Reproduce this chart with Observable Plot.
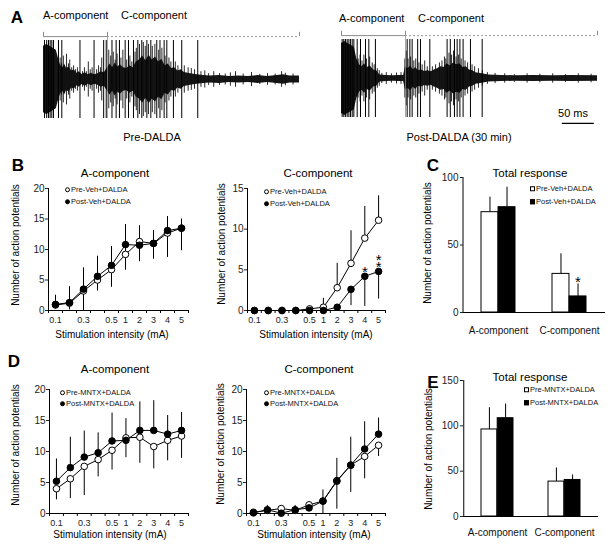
<!DOCTYPE html>
<html>
<head>
<meta charset="utf-8">
<script src="https://cdn.jsdelivr.net/npm/d3@7"></script>
<script src="https://cdn.jsdelivr.net/npm/@observablehq/plot@0.6"></script>
<style>
  html, body { margin: 0; padding: 0; background: #fff; overflow: hidden; }
  #fig { position: relative; width: 612px; height: 549px; overflow: hidden;
         font-family: "Liberation Sans", Arial, Helvetica, sans-serif; color: #000; background: #fff; }
  .t { position: absolute; white-space: nowrap; line-height: 1; }
  .leg { position: absolute; display: flex; align-items: center; font-size: 7.5px; line-height: 1;
         transform: translateY(-50%); white-space: nowrap; color: #111; }
  .mk { display: inline-block; width: 5px; height: 5px; box-sizing: border-box; border: 1px solid #000; margin-right: 1.5px; }
  .mk.circle { border-radius: 50%; }
</style>
</head>
<body>
<div id="fig"></div>
<script>
// ---------------- DATA ----------------
const intensities = ["0.1","0.2","0.3","0.4","0.5","1","2","3","4","5"];
const intensityTickLabels = ["0.1","","0.3","","0.5","1","2","3","4","5"];

// Panel B (Veh + DALDA) : pre error bars upward, post error bars downward
const preVehA     = [0.9, 1.2, 3.2, 5.0, 6.7, 9.2, 11.3, 11.0, 12.7, 13.5];
const postVehA    = [1.0, 1.3, 3.5, 5.6, 7.4, 10.8, 10.7, 11.0, 13.1, 13.5];
const preVehAErr  = [1.6, 2.7, 3.8, 3.9, 3.8, 4.9, 2.6, 2.1, 2.7, 1.5];
const postVehAErr = [0.8, 1.2, 3.5, 2.4, 3.6, 4.2, 2.7, 2.6, 4.4, 3.7];

const preVehC     = [0, 0, 0, 0, 0.2, 0.4, 2.8, 5.8, 8.9, 11.1];
const postVehC    = [0, 0, 0, 0, 0, 0, 0.4, 2.6, 4.2, 4.8];
const preVehCErr  = [0, 0, 0, 0, 0.3, 1.1, 3.0, 4.0, 3.9, 3.0];
const postVehCErr = [0, 0, 0, 0, 0, 0, 0.3, 2.0, 3.7, 3.4];
const vehCSig     = ["", "", "", "", "", "", "", "", "*", "**"];

// Panel D (MNTX + DALDA) : post error bars upward, pre error bars downward
const preMntxA     = [4.0, 5.6, 7.6, 8.7, 10.2, 12.2, 12.3, 10.8, 11.8, 12.5];
const postMntxA    = [5.2, 7.4, 9.1, 9.8, 11.7, 11.8, 13.4, 13.4, 12.8, 13.4];
const preMntxAErr  = [1.8, 3.2, 4.7, 2.8, 3.2, 3.2, 4.2, 3.6, 3.3, 3.6];
const postMntxAErr = [3.6, 4.9, 4.2, 3.2, 4.5, 3.5, 4.6, 4.8, 3.0, 2.9];

const preMntxC     = [0.2, 0.5, 0.8, 0.5, 1.4, 2.0, 5.2, 7.8, 9.2, 11.0];
const postMntxC    = [0.1, 0.6, 0.05, 0.6, 0.9, 2.0, 5.3, 7.8, 10.4, 12.8];
const preMntxCErr  = [0.2, 0.4, 0.5, 0.4, 0.6, 2.0, 4.5, 4.4, 3.6, 1.8];
const postMntxCErr = [0.2, 0.7, 0.3, 0.7, 0.5, 1.8, 3.6, 4.5, 4.4, 2.6];

// Panels C and E (total response)
const components = ["A-component", "C-component"];
const preVehTotal      = [74.3, 28.6];
const postVehTotal     = [78.0, 11.9];
const preVehTotalErr   = [11.1, 14.9];
const postVehTotalErr  = [14.8, 9.3];
const vehTotalSig      = ["", "*"];
const preMntxTotal     = [96.0, 38.5];
const postMntxTotal    = [108.4, 40.3];
const preMntxTotalErr  = [24.0, 15.0];
const postMntxTotalErr = [15.6, 5.5];
const mntxTotalSig     = ["", ""];

const vehLegend  = ["Pre-Veh+DALDA", "Post-Veh+DALDA"];
const mntxLegend = ["Pre-MNTX+DALDA", "Post-MNTX+DALDA"];

// Panel A traces (time in ms, amplitude normalised to the clipped display range)
const traceDuration = 400;
const componentBounds = [0, 100, 400];
const scaleBarMs = 50;
const scaleBarStart = 345;
const clipLevel = 1;
const bracketLevel = 1.1;
const scaleBarLevel = -1.15;

const pre1Spikes = [1.6, 5, 7.8, 10.4, 13, 15.6, 23.4, 28.6, 57, 79, 94, 98, 107, 113.5, 118.7, 127.6, 132.8,
                    140.6, 147.4, 153.6, 161.5, 167.7, 177, 182, 188.5, 192.7, 203, 216, 241];
const pre1MinorT = [26, 28, 31, 33, 36, 39, 41, 44, 47, 50, 53, 61, 64, 67, 70, 73, 76, 83, 86, 89, 91, 102, 105,
                    109, 112, 115, 121, 124, 130, 135, 138, 143, 145, 150, 156, 159, 164, 170, 174, 180, 185, 190,
                    196, 199, 206, 210, 220, 226, 231, 236, 246, 252, 258, 266, 275, 284, 292, 300, 312, 325, 338,
                    350, 362, 372, 378, 390];
const pre1MinorA = [0.55, 0.4, 0.6, 0.35, 0.65, 0.4, 0.5, 0.3, 0.35, 0.25, 0.3, 0.2, 0.3, 0.2, 0.45, 0.25, 0.3,
                    0.25, 0.35, 0.3, 0.55, 0.75, 0.6, 0.7, 0.5, 0.65, 0.55, 0.75, 0.5, 0.6, 0.45, 0.7, 0.8, 0.9,
                    0.95, 0.85, 0.9, 0.85, 0.9, 0.75, 0.8, 0.6, 0.55, 0.45, 0.45, 0.35, 0.35, 0.3, 0.28, 0.25,
                    0.2, 0.22, 0.15, 0.2, 0.15, 0.14, 0.17, 0.2, 0.14, 0.18, 0.13, 0.15, 0.14, 0.2, 0.16, 0.14];
const pre1EnvT = [0, 5, 10, 15, 20, 24, 27, 30, 33, 36, 40, 44, 48, 52, 56, 60, 65, 70, 75, 80, 85, 90, 95, 100,
                  104, 108, 112, 116, 120, 125, 130, 135, 140, 145, 150, 155, 160, 165, 170, 175, 180, 185, 190,
                  195, 200, 205, 210, 215, 220, 230, 240, 250, 260, 275, 290, 305, 320, 335, 350, 365, 375, 385, 400];
const pre1EnvA = [0.85, 0.9, 0.85, 0.8, 0.75, 0.5, 0.35, 0.3, 0.4, 0.28, 0.32, 0.22, 0.25, 0.16, 0.2, 0.13, 0.17,
                  0.12, 0.16, 0.12, 0.15, 0.2, 0.17, 0.3, 0.4, 0.3, 0.42, 0.32, 0.38, 0.3, 0.28, 0.35, 0.3, 0.45,
                  0.5, 0.6, 0.48, 0.62, 0.5, 0.58, 0.45, 0.52, 0.35, 0.4, 0.28, 0.3, 0.22, 0.25, 0.18, 0.15, 0.12,
                  0.1, 0.09, 0.1, 0.08, 0.09, 0.08, 0.1, 0.08, 0.1, 0.12, 0.09, 0.09];

const post1Spikes = [1, 3.6, 6.3, 8.9, 11.5, 14, 16.7, 19.3, 24.5, 29.7, 37.5, 42.7, 53, 102.6, 106.8, 110.4, 119,
                     123.4, 138, 165, 170, 176.5, 180.7, 185, 190, 201.5, 219.8];
const post1MinorT = [26, 29, 32, 35, 39, 44, 48, 51, 56, 59, 63, 70, 78, 86, 93, 99, 101, 104, 108, 113, 116, 121,
                     126, 130, 134, 142, 147, 153, 157, 161, 163, 168, 172, 175, 179, 183, 187, 193, 197, 204, 208,
                     214, 220, 228, 240, 255, 270, 290, 310, 330, 350, 370, 390];
const post1MinorA = [0.5, 0.6, 0.45, 0.6, 0.5, 0.55, 0.4, 0.35, 0.25, 0.2, 0.13, 0.15, 0.12, 0.14, 0.15, 0.5, 0.7,
                     0.5, 0.55, 0.45, 0.5, 0.4, 0.35, 0.45, 0.3, 0.3, 0.35, 0.4, 0.45, 0.55, 0.5, 0.65, 0.6, 0.7,
                     0.55, 0.6, 0.5, 0.45, 0.4, 0.35, 0.3, 0.25, 0.2, 0.15, 0.13, 0.12, 0.1, 0.12, 0.11, 0.12, 0.1,
                     0.12, 0.11];
const post1EnvT = [0, 5, 10, 15, 20, 24, 28, 32, 36, 40, 45, 50, 55, 60, 70, 80, 90, 97, 100, 104, 108, 112, 116,
                   120, 125, 130, 135, 140, 145, 150, 155, 160, 165, 170, 175, 180, 185, 190, 195, 200, 205, 210,
                   220, 230, 250, 270, 300, 330, 360, 400];
const post1EnvA = [0.9, 0.95, 0.9, 0.85, 0.8, 0.5, 0.35, 0.3, 0.38, 0.28, 0.32, 0.22, 0.2, 0.09, 0.08, 0.07, 0.08,
                   0.08, 0.3, 0.25, 0.32, 0.22, 0.28, 0.2, 0.22, 0.18, 0.2, 0.17, 0.22, 0.25, 0.3, 0.28, 0.38, 0.32,
                   0.4, 0.35, 0.38, 0.28, 0.3, 0.22, 0.2, 0.15, 0.12, 0.09, 0.08, 0.07, 0.08, 0.07, 0.08, 0.07];

// ---------------- RENDER ----------------
const W = 612, H = 549;
const FONT = '"Liberation Sans", Arial, Helvetica, sans-serif';
const fig = document.getElementById("fig");

function text(str, x, y, {size = 10, weight = "normal", rotate = 0, anchor = "middle", color = "#000"} = {}) {
  const el = document.createElement("div");
  el.className = "t";
  el.textContent = str;
  el.style.left = x + "px";
  el.style.top = y + "px";
  el.style.fontSize = size + "px";
  el.style.fontWeight = weight;
  el.style.color = color;
  const tx = anchor === "middle" ? "-50%" : anchor === "end" ? "-100%" : "0";
  el.style.transform = `translate(${tx}, -50%)` + (rotate ? ` rotate(${rotate}deg)` : "");
  fig.appendChild(el);
}

function legend(x, y, gap, labels, shape) {
  labels.forEach((lab, k) => {
    const row = document.createElement("div");
    row.className = "leg";
    row.style.left = (x - 2.5) + "px";
    row.style.top = (y + k * gap) + "px";
    const m = document.createElement("span");
    m.className = "mk " + shape;
    m.style.background = k === 0 ? "#fff" : "#000";
    row.appendChild(m);
    row.appendChild(document.createTextNode(lab));
    fig.appendChild(row);
  });
}

function pagePlot(frame, opts) {
  const svg = Plot.plot({
    width: W, height: H,
    marginLeft: frame.left, marginRight: W - frame.right,
    marginTop: frame.top, marginBottom: H - frame.bottom,
    style: {position: "absolute", left: "0px", top: "0px", background: "transparent",
            overflow: "visible", fontFamily: FONT, color: "#000", maxWidth: "none"},
    ...opts
  });
  fig.appendChild(svg);
}

function linePanel({frame, yMax, yStep, pre, post, preErr, postErr, preUp, sig}) {
  const rows = intensities.map((c, i) => ({i, pre: pre[i], post: post[i], preErr: preErr[i], postErr: postErr[i],
                                           sig: sig ? sig[i] : ""}));
  const xDomain = [-0.5, intensities.length - 0.5];
  const boundaries = d3.range(intensities.length + 1).map(k => k - 0.5);
  const labelIdx = intensities.map((c, i) => i).filter(i => intensityTickLabels[i] !== "");
  const dir = preUp ? 1 : -1;
  const sigMarks = [];
  rows.filter(d => d.sig).forEach(d => {
    d.sig.split("").forEach((s, k) => {
      sigMarks.push(Plot.text([d], {x: "i", y: "post", text: () => s, lineAnchor: "bottom",
                                   fontSize: 15, dy: 1 - 7 * k, fill: "#000"}));
    });
  });
  pagePlot(frame, {
    x: {type: "linear", domain: xDomain},
    y: {domain: [0, yMax]},
    marks: [
      Plot.ruleX(rows, {x: "i", y1: "pre", y2: d => d.pre + dir * d.preErr, stroke: "#000", strokeWidth: 1}),
      Plot.ruleX(rows, {x: "i", y1: "post", y2: d => d.post - dir * d.postErr, stroke: "#000", strokeWidth: 1}),
      Plot.ruleY([0], {stroke: "#000"}),
      Plot.ruleX([xDomain[0]], {stroke: "#000"}),
      Plot.axisY(d3.range(0, yMax + 1e-9, yStep), {tickSize: 3, tickPadding: 1, fontSize: 10, label: null,
                                                     tickFormat: d3.format("d"), color: "#222"}),
      Plot.axisX(boundaries, {tickSize: 3, tickFormat: () => "", label: null}),
      Plot.axisX(labelIdx, {tickSize: 0, tickPadding: 6, fontSize: 9, label: null,
                            tickFormat: i => intensityTickLabels[i], color: "#222"}),
      Plot.line(rows, {x: "i", y: "pre", stroke: "#000", strokeWidth: 1}),
      Plot.line(rows, {x: "i", y: "post", stroke: "#000", strokeWidth: 1}),
      Plot.dot(rows, {x: "i", y: "pre", r: 3.3, fill: "#fff", stroke: "#000", strokeWidth: 1}),
      Plot.dot(rows, {x: "i", y: "post", r: 3.3, fill: "#000", stroke: "#000", strokeWidth: 1}),
      ...sigMarks
    ]
  });
}

function barPanel({frame, yMax, yStep, pre, post, preErr, postErr, sig, labelPad}) {
  const pi = 0.52, po = 0.26;
  const step = (frame.right - frame.left) / (components.length - pi + 2 * po);
  const bw = step * (1 - pi);
  const rows = components.map((c, i) => ({c, pre: pre[i], post: post[i], preErr: preErr[i], postErr: postErr[i], sig: sig[i]}));
  pagePlot(frame, {
    x: {type: "band", domain: components, paddingInner: pi, paddingOuter: po},
    y: {domain: [0, yMax]},
    marks: [
      Plot.ruleX(rows, {x: "c", y1: "pre", y2: d => d.pre + d.preErr, dx: -bw / 4, stroke: "#000"}),
      Plot.ruleX(rows, {x: "c", y1: "post", y2: d => d.post + d.postErr, dx: bw / 4, stroke: "#000"}),
      Plot.barY(rows, {x: "c", y: "pre", fill: "#fff", stroke: "#000", strokeWidth: 1, insetRight: bw / 2}),
      Plot.barY(rows, {x: "c", y: "post", fill: "#000", stroke: "#000", strokeWidth: 1, insetLeft: bw / 2}),
      Plot.ruleY([0], {stroke: "#000"}),
      Plot.ruleX([components[0]], {stroke: "#000", dx: -(po * step + bw / 2)}),
      Plot.axisY(d3.range(0, yMax + 1e-9, yStep), {tickSize: 3, tickPadding: 2, fontSize: 10, label: null,
                                                     tickFormat: d3.format("d"), color: "#222"}),
      Plot.axisX({tickSize: 0, tickPadding: labelPad, fontSize: 10, label: null, color: "#111"}),
      Plot.text(rows.filter(d => d.sig), {x: "c", y: d => d.post + d.postErr, text: "sig", dx: bw / 4, dy: 3.5,
                                          lineAnchor: "bottom", fontSize: 15, fill: "#000"})
    ]
  });
}

function tracePanel({frame, spikes, minorT, minorA, envT, envA, showScaleBar}) {
  const env = envT.map((t, i) => ({t, a: envA[i]}));
  const minor = minorT.map((t, i) => ({t, a: minorA[i]}));
  const marks = [
    Plot.areaY(env, {x: "t", y1: d => -d.a, y2: "a", fill: "#151515"}),
    Plot.ruleX(minor, {x: "t", y1: d => -d.a, y2: "a", stroke: "#111", strokeWidth: 0.9}),
    Plot.ruleX(spikes, {x: d => d, y1: -clipLevel, y2: clipLevel, stroke: "#000", strokeWidth: 1}),
    Plot.ruleX([componentBounds[1]], {y1: -clipLevel, y2: bracketLevel, stroke: "#e06a6a", strokeOpacity: 0.75}),
    Plot.ruleY([bracketLevel], {x1: componentBounds[0], x2: componentBounds[1], stroke: "#8a8a8a"}),
    Plot.ruleY([bracketLevel], {x1: componentBounds[1], x2: componentBounds[2], stroke: "#9a9a9a", strokeDasharray: "2,2"}),
    Plot.ruleX(componentBounds, {y1: bracketLevel, y2: bracketLevel + 0.11, stroke: "#8a8a8a"})
  ];
  if (showScaleBar) {
    marks.push(Plot.ruleY([scaleBarLevel], {x1: scaleBarStart, x2: scaleBarStart + scaleBarMs, stroke: "#000", strokeWidth: 1.2}));
  }
  pagePlot(frame, {x: {domain: [0, traceDuration], axis: null},
                   y: {domain: [-clipLevel, clipLevel], axis: null}, marks});
}

// ---- Panel A ----
tracePanel({frame: {left: 43, right: 299, top: 40, bottom: 118}, spikes: pre1Spikes, minorT: pre1MinorT,
            minorA: pre1MinorA, envT: pre1EnvT, envA: pre1EnvA, showScaleBar: false});
tracePanel({frame: {left: 341, right: 597, top: 39, bottom: 117}, spikes: post1Spikes, minorT: post1MinorT,
            minorA: post1MinorA, envT: post1EnvT, envA: post1EnvA, showScaleBar: true});
text("A", 17, 17, {size: 17, weight: "bold"});
text("A-component", 43, 15, {size: 11, anchor: "start"});
text("C-component", 121, 15, {size: 11, anchor: "start"});
text("A-component", 339, 18, {size: 11, anchor: "start"});
text("C-component", 418, 18, {size: 11, anchor: "start"});
text("Pre-DALDA", 152, 137, {size: 11});
text("Post-DALDA (30 min)", 459, 137, {size: 11});
text("50 ms", 573, 113, {size: 11});

// ---- Panel B ----
linePanel({frame: {left: 48, right: 188, top: 188, bottom: 310}, yMax: 20, yStep: 5,
           pre: preVehA, post: postVehA, preErr: preVehAErr, postErr: postVehAErr, preUp: true});
linePanel({frame: {left: 247, right: 385, top: 188, bottom: 310}, yMax: 15, yStep: 5,
           pre: preVehC, post: postVehC, preErr: preVehCErr, postErr: postVehCErr, preUp: true, sig: vehCSig});
text("B", 18, 165, {size: 17, weight: "bold"});
text("A-component", 115, 174, {size: 11.5});
text("C-component", 318, 174, {size: 11.5});
text("Stimulation intensity (mA)", 112, 335, {size: 10});
text("Stimulation intensity (mA)", 316, 335, {size: 10});
text("Number of action potentials", 16, 245, {size: 10, rotate: -90});
text("Number of action potentials", 222, 244, {size: 10, rotate: -90});
legend(67, 190, 12, vehLegend, "circle");
legend(266, 192, 12, vehLegend, "circle");

// ---- Panel C ----
barPanel({frame: {left: 463, right: 605, top: 177, bottom: 312}, yMax: 100, yStep: 50,
          pre: preVehTotal, post: postVehTotal, preErr: preVehTotalErr, postErr: postVehTotalErr, sig: vehTotalSig, labelPad: 14});
text("C", 433, 165, {size: 17, weight: "bold"});
text("Total response", 530, 174, {size: 11.5});
text("Number of action potentials", 428, 243, {size: 10, rotate: -90});
legend(532, 189, 12.5, vehLegend, "square");

// ---- Panel D ----
linePanel({frame: {left: 49, right: 188, top: 389, bottom: 513}, yMax: 20, yStep: 5,
           pre: preMntxA, post: postMntxA, preErr: preMntxAErr, postErr: postMntxAErr, preUp: false});
linePanel({frame: {left: 246, right: 385, top: 389, bottom: 513}, yMax: 20, yStep: 5,
           pre: preMntxC, post: postMntxC, preErr: preMntxCErr, postErr: postMntxCErr, preUp: false});
text("D", 14, 361, {size: 17, weight: "bold"});
text("A-component", 115, 370, {size: 11.5});
text("C-component", 319, 370, {size: 11.5});
text("Stimulation intensity (mA)", 110, 535, {size: 10});
text("Stimulation intensity (mA)", 314, 535, {size: 10});
text("Number of action potentials", 16, 445, {size: 10, rotate: -90});
text("Number of action potentials", 221, 444, {size: 10, rotate: -90});
legend(62, 393, 11, mntxLegend, "circle");
legend(266, 393, 11, mntxLegend, "circle");

// ---- Panel E ----
barPanel({frame: {left: 463, right: 598, top: 380, bottom: 516}, yMax: 150, yStep: 50,
          pre: preMntxTotal, post: postMntxTotal, preErr: preMntxTotalErr, postErr: postMntxTotalErr, sig: mntxTotalSig, labelPad: 12});
text("E", 433, 382, {size: 17, weight: "bold"});
text("Total response", 530, 378, {size: 11.5});
text("Number of action potentials", 429, 449, {size: 10, rotate: -90});
legend(526, 390, 13, mntxLegend, "square");
</script>
</body>
</html>
